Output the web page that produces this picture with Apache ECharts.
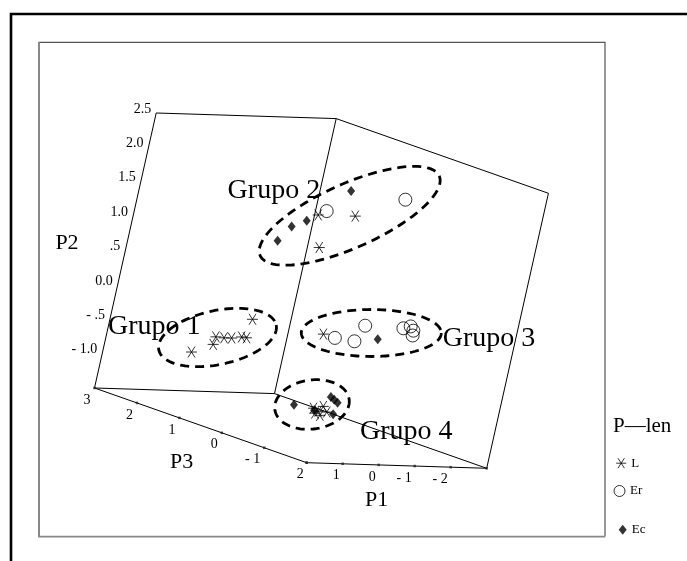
<!DOCTYPE html>
<html><head><meta charset="utf-8">
<script src="https://cdn.jsdelivr.net/npm/echarts@6/dist/echarts.min.js"></script>
<style>html,body{margin:0;padding:0;background:#fff}#c{width:687px;height:561px}</style>
</head><body><div id="c"></div>
<script>
// ---- data: scores on the three components (P1, P2, P3) ----
const L_P1 = [0.81, 0.26, 0.23, 0.00, -0.21, -0.48, -0.62, -0.67, 0.69, -0.34, 0.46, 0.44, -1.64, -1.79, -1.90, -1.86, -2.03, -1.71];
const L_P2 = [-0.74, -0.62, -0.51, -0.52, -0.52, -0.50, -0.51, -0.24, 1.69, 1.69, 1.22, 0.07, -1.30, -1.34, -1.27, -1.40, -1.35, -1.37];
const L_P3 = [2, 2, 2, 2, 2, 2, 2, 2, 0, 0, 0, -0.5, 1, 1, 1, 1, 1, 1];

const Er_P1 = [0.48, -1.62, 0.10, -0.66, -0.46, -1.73, -1.92, -2.02, -2.03];
const Er_P2 = [1.75, 1.95, 0.02, 0.21, -0.02, 0.19, 0.22, 0.16, 0.09];
const Er_P3 = [0, 0, -0.5, -0.5, -0.5, -0.5, -0.5, -0.5, -0.5];

const Ec_P1 = [1.65, 1.35, 0.97, -0.07, -1.09, -1.08, -2.05, -2.16, -2.27, -2.22, -1.67];
const Ec_P2 = [1.30, 1.51, 1.60, 2.05, 0.02, -1.26, -1.13, -1.17, -1.21, -1.38, -1.33];
const Ec_P3 = [0, 0, 0, 0, -0.5, 1, 1, 1, 1, 1, 1];

const seriesNames = ['L', 'Er', 'Ec'];
const legendTitle = 'P—len';
const groupNames = ['Grupo 1', 'Grupo 2', 'Grupo 3', 'Grupo 4'];

const P1_RANGE = [-3, 2], P2_RANGE = [-1.5, 2.5], P3_RANGE = [-2, 3];
const p1Ticks = [2, 1, 0, -1, -2, -3];
const p1TickLabels = ['2', '1', '0', '- 1', '- 2', ''];
const p2Ticks = [2.5, 2.0, 1.5, 1.0, 0.5, 0.0, -0.5, -1.0];
const p2TickLabels = ['2.5', '2.0', '1.5', '1.0', '.5', '0.0', '- .5', '- 1.0'];
const p3Ticks = [3, 2, 1, 0, -1, -2];
const p3TickLabels = ['3', '2', '1', '0', '- 1', ''];

// ---- oblique projection (layout) ----
const VIEW = { o: [316.96, 331.93], e1: [-36, -1.12], e2: [15.43, -68.75], e3: [-42.44, -14.94] };
function proj(a, b, c) {
  return [VIEW.o[0] + a * VIEW.e1[0] + b * VIEW.e2[0] + c * VIEW.e3[0],
          VIEW.o[1] + a * VIEW.e1[1] + b * VIEW.e2[1] + c * VIEW.e3[1]];
}
function pts(A, B, C) { return A.map((v, i) => proj(v, B[i], C[i])); }

const FONT = 'Liberation Serif, Times New Roman, serif';
const STAR = 'path://M0,5H10M1.8,0L8.2,10M8.2,0L1.8,10';

// box
const [p1lo, p1hi] = P1_RANGE, [p2lo, p2hi] = P2_RANGE, [p3lo, p3hi] = P3_RANGE;
const L0 = proj(p1hi, p2lo, p3hi), M = proj(p1lo, p2lo, p3hi), R = proj(p1lo, p2lo, p3lo), F = proj(p1hi, p2lo, p3lo);
const TL = proj(p1hi, p2hi, p3hi), TM = proj(p1lo, p2hi, p3hi), TR = proj(p1lo, p2hi, p3lo);
const edges = [[L0, M], [M, R], [R, F], [F, L0], [L0, TL], [M, TM], [R, TR], [TL, TM], [TM, TR]];

const tickDots = p3Ticks.map(t => proj(p1hi, p2lo, t)).concat(p1Ticks.map(t => proj(t, p2lo, p3lo)));

// annotation ellipses (screen layout)
const ELLIPSES = [
  { cx: 217.5, cy: 337.5, a: 60, b: 27, rot: -12 },
  { cx: 349.7, cy: 215.8, a: 98, b: 32, rot: -24 },
  { cx: 371.3, cy: 333, a: 70, b: 23.5, rot: 0 },
  { cx: 312, cy: 404.5, a: 37.5, b: 24.5, rot: -8 }
];
const GROUP_LABEL_POS = [[108, 326.5], [227.6, 190.5], [442.7, 338.8], [360, 431.2]];

function ellipsePts(e) {
  const out = [], r = e.rot * Math.PI / 180;
  for (let i = 0; i < 120; i++) {
    const t = i / 120 * 2 * Math.PI;
    const x = e.a * Math.cos(t), y = e.b * Math.sin(t);
    out.push([e.cx + x * Math.cos(r) - y * Math.sin(r), e.cy + x * Math.sin(r) + y * Math.cos(r)]);
  }
  return out;
}

const graphics = [];
// outer frame
graphics.push({ type: 'polyline', shape: { points: [[11, 561], [11, 14], [687, 14]] }, style: { stroke: '#000', lineWidth: 2.6, fill: null } });
// inner frame
graphics.push({ type: 'polyline', shape: { points: [[39, 536.5], [39, 42.3], [605, 42.3], [605, 536.5]] }, style: { stroke: '#555', lineWidth: 1.2, fill: null } });
graphics.push({ type: 'polyline', shape: { points: [[39, 42.3], [39, 536.7], [605, 536.7]] }, style: { stroke: '#888', lineWidth: 1.8, fill: null } });

// ellipses
ELLIPSES.forEach(e => graphics.push({ type: 'polygon', z: 5, shape: { points: ellipsePts(e) }, style: { fill: null, stroke: '#000', lineWidth: 2.8, lineDash: [9, 6] } }));
// group labels
groupNames.forEach((g, i) => graphics.push({ type: 'text', z: 6, x: GROUP_LABEL_POS[i][0], y: GROUP_LABEL_POS[i][1], style: { text: g, font: '28px ' + FONT, fill: '#000', verticalAlign: 'middle', align: 'left' } }));

// tick labels
p2Ticks.forEach((t, i) => { const p = proj(p1hi, t, p3hi); graphics.push({ type: 'text', x: p[0] - 5, y: p[1] - 4, style: { text: p2TickLabels[i], font: '14px ' + FONT, fill: '#000', align: 'right', verticalAlign: 'middle' } }); });
p3Ticks.forEach((t, i) => { const p = proj(p1hi, p2lo, t); graphics.push({ type: 'text', x: p[0] - 4, y: p[1] + 12, style: { text: p3TickLabels[i], font: '14px ' + FONT, fill: '#000', align: 'right', verticalAlign: 'middle' } }); });
p1Ticks.forEach((t, i) => { const p = proj(t, p2lo, p3lo); graphics.push({ type: 'text', x: p[0] - 3, y: p[1] + 12, style: { text: p1TickLabels[i], font: '14px ' + FONT, fill: '#000', align: 'right', verticalAlign: 'middle' } }); });

// axis titles
[['P2', 67, 243.3], ['P3', 181.7, 462], ['P1', 376.7, 500.5]].forEach(a => graphics.push({ type: 'text', x: a[1], y: a[2], style: { text: a[0], font: '22px ' + FONT, fill: '#000', align: 'center', verticalAlign: 'middle' } }));
// legend title
graphics.push({ type: 'text', x: 613, y: 426.7, style: { text: legendTitle, font: '21px ' + FONT, fill: '#000', align: 'left', verticalAlign: 'middle' } });

const chart = echarts.init(document.getElementById('c'), null, { renderer: 'canvas' });
const legendBase = { orient: 'horizontal', selectedMode: false, padding: 0, itemWidth: 10, itemHeight: 10,
  itemStyle: { borderWidth: 1 },
  textStyle: { fontFamily: FONT, fontSize: 13, color: '#000', verticalAlign: 'top', lineHeight: 7 } };
chart.setOption({
  animation: false,
  backgroundColor: '#fff',
  grid: { left: 0, top: 0, width: 687, height: 561 },
  xAxis: { type: 'value', min: 0, max: 687, show: false },
  yAxis: { type: 'value', min: 0, max: 561, inverse: true, show: false },
  legend: [
    Object.assign({}, legendBase, { data: ['L'], left: 615.7, top: 456.7 }),
    Object.assign({}, legendBase, { data: ['Er'], left: 613.5, top: 484.5, itemWidth: 11, itemHeight: 11 }),
    Object.assign({}, legendBase, { data: ['Ec'], left: 618.7, top: 523.3, itemWidth: 8, itemHeight: 10, itemStyle: { borderWidth: 0 } })
  ],
  graphic: graphics,
  series: [
    { type: 'lines', coordinateSystem: 'cartesian2d', silent: true, z: 1,
      data: edges.map(e => ({ coords: e })), lineStyle: { color: '#000', width: 1, opacity: 1 } },
    { type: 'scatter', silent: true, z: 1, symbol: 'rect', symbolSize: 2.5, itemStyle: { color: '#222' }, data: tickDots },
    { name: seriesNames[0], type: 'scatter', z: 3, symbol: STAR, symbolSize: 11,
      itemStyle: { color: 'rgba(0,0,0,0)', borderColor: '#000', borderWidth: 1 }, data: pts(L_P1, L_P2, L_P3) },
    { name: seriesNames[1], type: 'scatter', z: 3, symbol: 'circle', symbolSize: 13,
      itemStyle: { color: 'rgba(0,0,0,0)', borderColor: '#000', borderWidth: 1 }, data: pts(Er_P1, Er_P2, Er_P3) },
    { name: seriesNames[2], type: 'scatter', z: 3, symbol: 'diamond', symbolSize: [8, 10],
      itemStyle: { color: '#000' }, data: pts(Ec_P1, Ec_P2, Ec_P3) }
  ]
});
</script></body></html>
